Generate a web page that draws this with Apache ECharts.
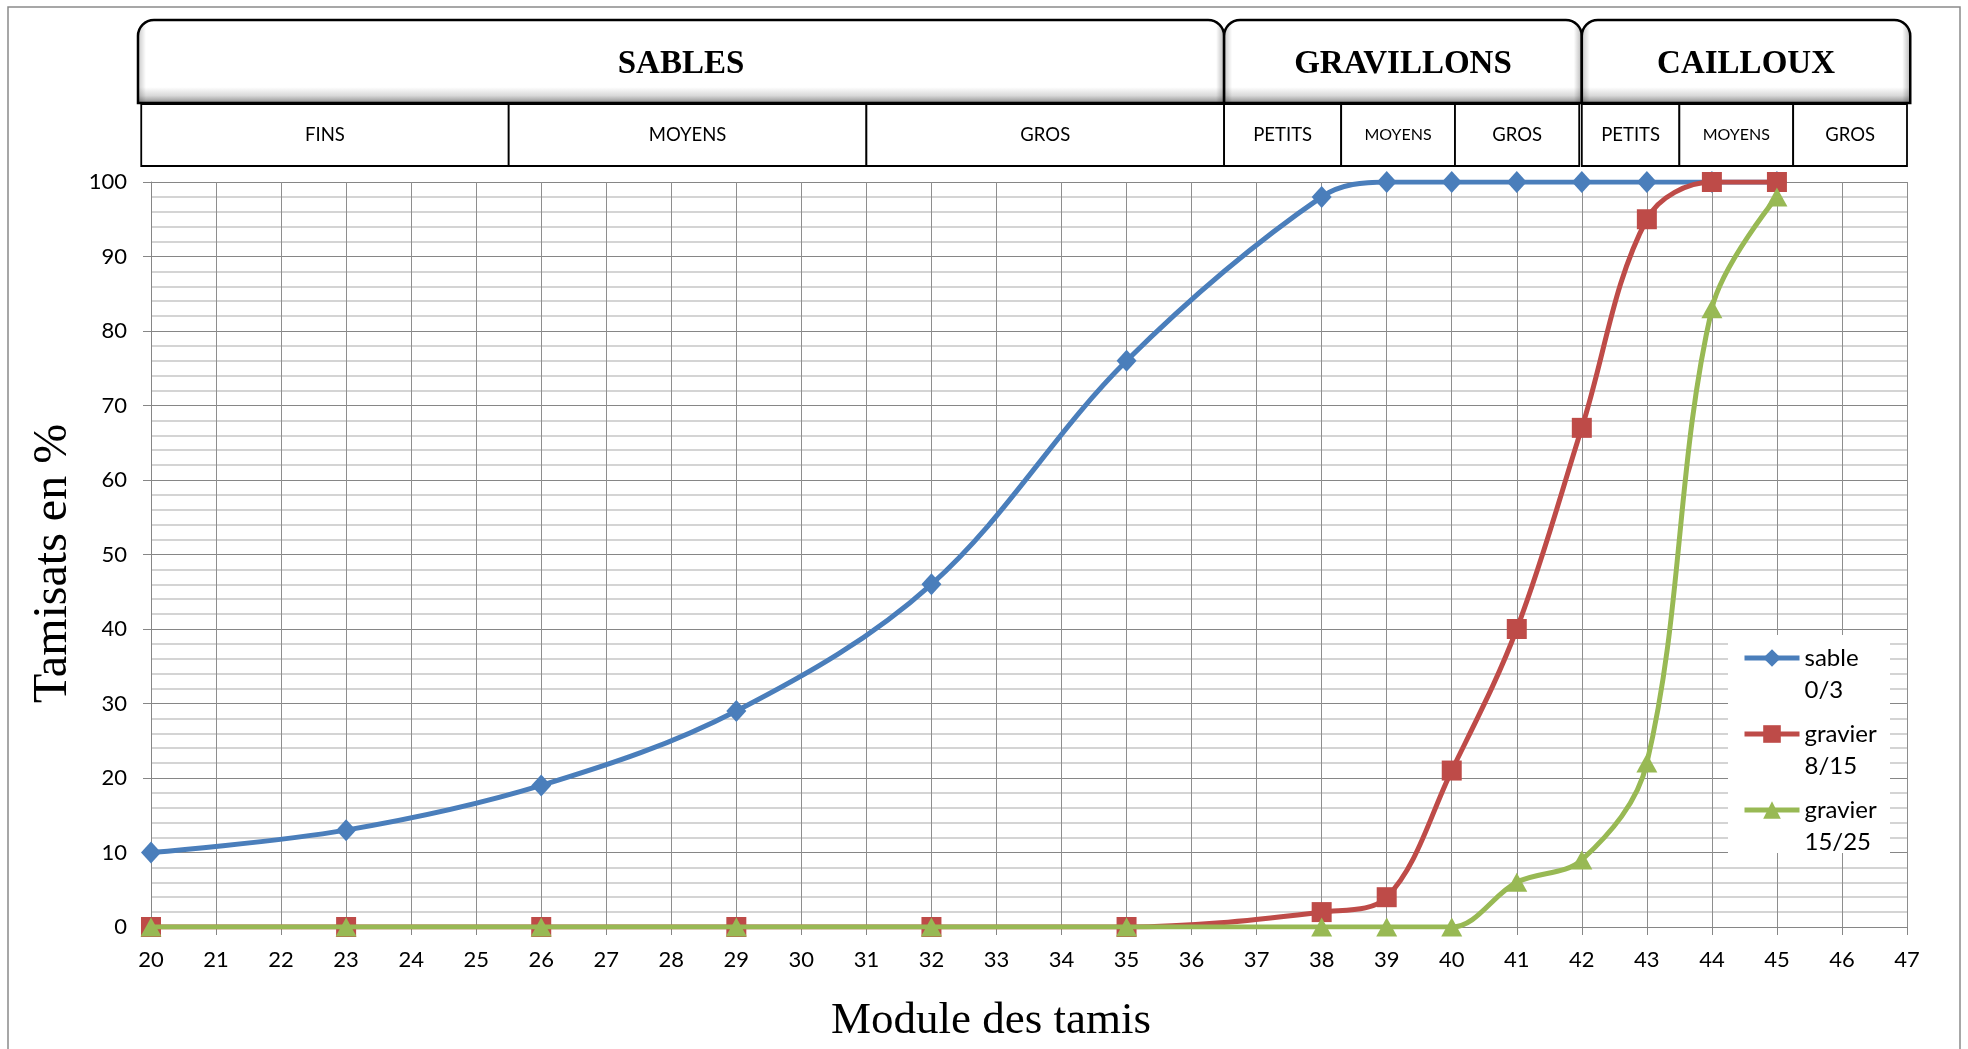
<!DOCTYPE html>
<html><head><meta charset="utf-8">
<script src="https://cdn.jsdelivr.net/npm/echarts@6/dist/echarts.min.js"></script>
<style>html,body{margin:0;padding:0;background:#fff}#c{width:1968px;height:1049px}</style>
</head><body><div id="c"></div>
<script>
// ---- data ----
const moduleX = [20, 23, 26, 29, 32, 35, 38, 39, 40, 41, 42, 43, 44, 45];
const sable03 = [10, 13, 19, 29, 46, 76, 98, 100, 100, 100, 100, 100, 100, 100];
const gravier815 = [0, 0, 0, 0, 0, 0, 2, 4, 21, 40, 67, 95, 100, 100];
const gravier1525 = [0, 0, 0, 0, 0, 0, 0, 0, 0, 6, 9, 22, 83, 98];
const seriesNames = ['sable 0/3', 'gravier 8/15', 'gravier 15/25'];

// classification bands (in "module" axis units)
const mainBands = ['SABLES', 'GRAVILLONS', 'CAILLOUX'];
const mainBandFrom = [19.8, 36.5, 42.0];
const mainBandTo = [36.5, 42.0, 47.05];
const subBands = ['FINS', 'MOYENS', 'GROS', 'PETITS', 'MOYENS', 'GROS', 'PETITS', 'MOYENS', 'GROS'];
const subBandFrom = [19.85, 25.5, 31.0, 36.5, 38.3, 40.05, 42.0, 43.5, 45.25];
const subBandTo = [25.5, 31.0, 36.5, 38.3, 40.05, 41.96, 43.5, 45.25, 47.0];

const pairs = ys => moduleX.map((x, i) => [x, ys[i]]);

const chart = echarts.init(document.getElementById('c'), null, {renderer: 'canvas'});
const tickFont = 'Lato, "Open Sans", sans-serif';

const option = {
  animation: false,
  backgroundColor: '#ffffff',
  grid: {left: 151, right: 61, top: 182, bottom: 120},
  legend: {
    orient: 'vertical', left: 1742, top: 610, padding: 0, itemGap: -20,
    itemWidth: 55, itemHeight: 22,
    backgroundColor: 'transparent',
    lineStyle: {width: 5},
    formatter: n => '\n' + n.replace(' ', '\n'),
    textStyle: {fontFamily: tickFont, fontSize: 24, color: '#000', lineHeight: 32},
    data: seriesNames
  },
  xAxis: {
    type: 'value', min: 20, max: 47, interval: 1,
    name: 'Module des tamis', nameLocation: 'middle', nameGap: 72,
    nameTextStyle: {fontFamily: '"Liberation Serif", serif', fontSize: 45, color: '#000', padding: [0, 76, 0, 0]},
    axisLine: {show: true, onZero: false, lineStyle: {color: '#868686', width: 1}},
    axisTick: {show: true, length: 8, lineStyle: {color: '#868686'}},
    axisLabel: {color: '#000', fontFamily: tickFont, fontSize: 22, margin: 22},
    splitLine: {show: true, lineStyle: {color: '#8e8e8e', width: 1}}
  },
  yAxis: {
    type: 'value', min: 0, max: 100, interval: 10,
    name: 'Tamisats en %', nameLocation: 'middle', nameGap: 48,
    nameTextStyle: {fontFamily: '"Liberation Serif", serif', fontSize: 48, color: '#000', padding: [0, 18, 0, 0]},
    axisLine: {show: true, lineStyle: {color: '#868686', width: 1}},
    axisTick: {show: true, length: 8, lineStyle: {color: '#868686'}},
    axisLabel: {color: '#000', fontFamily: tickFont, fontSize: 22, margin: 24},
    splitLine: {show: true, lineStyle: {color: '#868686', width: 1.2}},
    minorTick: {show: false, splitNumber: 5},
    minorSplitLine: {show: true, lineStyle: {color: '#c6c6c6', width: 1.5}}
  },
  series: [
    {name: seriesNames[0], type: 'line', smooth: 0.35, data: pairs(sable03),
     symbol: 'diamond', symbolSize: [20, 22], z: 2,
     lineStyle: {color: '#4a7ebb', width: 5}, itemStyle: {color: '#4a7ebb'}},
    {name: seriesNames[1], type: 'line', smooth: 0.35, data: pairs(gravier815),
     symbol: 'rect', symbolSize: [20, 20], z: 3,
     lineStyle: {color: '#be4b48', width: 5}, itemStyle: {color: '#be4b48'}},
    {name: seriesNames[2], type: 'line', smooth: 0.35, data: pairs(gravier1525),
     symbol: 'triangle', symbolSize: [21, 19], z: 4,
     lineStyle: {color: '#98b954', width: 5}, itemStyle: {color: '#98b954'}}
  ]
};
chart.setOption(option);

const px = v => chart.convertToPixel({xAxisIndex: 0}, v);
const ctx = document.createElement('canvas').getContext('2d');
const textW = (t, font) => { ctx.font = font; return ctx.measureText(t).width; };

const graphics = [];
// outer chart border
graphics.push({type: 'rect', z: 0, silent: true,
  shape: {x: 8, y: 7, width: 1952, height: 1070},
  style: {fill: null, stroke: '#8a8a8a', lineWidth: 1.5}});
// main bands
mainBands.forEach((t, i) => {
  const x0 = px(mainBandFrom[i]), x1 = px(mainBandTo[i]);
  const shape = {x: x0, y: 20, width: x1 - x0, height: 83, r: [16, 16, 0, 0]};
  graphics.push({type: 'rect', z: 10, silent: true, shape,
    style: {stroke: '#000', lineWidth: 2.5,
      fill: {type: 'linear', x: 0, y: 0, x2: 0, y2: 1, colorStops: [
        {offset: 0, color: '#ffffff'}, {offset: 0.8, color: '#ffffff'},
        {offset: 0.9, color: '#d8d8d8'}, {offset: 1, color: '#808080'}]}}});
  graphics.push({type: 'rect', z: 11, silent: true, shape,
    style: {stroke: null,
      fill: {type: 'linear', x: 0, y: 0, x2: 1, y2: 0, colorStops: [
        {offset: 0, color: 'rgba(0,0,0,0.22)'}, {offset: 8 / (x1 - x0), color: 'rgba(0,0,0,0)'},
        {offset: 1 - 8 / (x1 - x0), color: 'rgba(0,0,0,0)'}, {offset: 1, color: 'rgba(0,0,0,0.28)'}]}}});
  graphics.push({type: 'text', z: 12, silent: true,
    style: {x: (x0 + x1) / 2, y: 64, text: t, align: 'center', verticalAlign: 'middle',
      font: 'bold 33px "Liberation Serif", serif', fill: '#000'}});
});
// sub bands
subBands.forEach((t, i) => {
  const x0 = px(subBandFrom[i]), x1 = px(subBandTo[i]);
  let font = '18.5px ' + tickFont;
  if (textW(t, font) > 0.66 * (x1 - x0)) font = '16px ' + tickFont;
  graphics.push({type: 'rect', z: 10, silent: true,
    shape: {x: x0, y: 104, width: x1 - x0, height: 62},
    style: {fill: '#fff', stroke: '#000', lineWidth: 1.8}});
  graphics.push({type: 'text', z: 12, silent: true,
    style: {x: (x0 + x1) / 2, y: 135, text: t, align: 'center', verticalAlign: 'middle',
      font: font, fill: '#000'}});
});
// legend background
graphics.push({type: 'rect', z: 3, silent: true,
  shape: {x: 1728, y: 635, width: 162, height: 218},
  style: {fill: '#fff', stroke: null}});
chart.setOption({graphic: graphics});
</script>
</body></html>
